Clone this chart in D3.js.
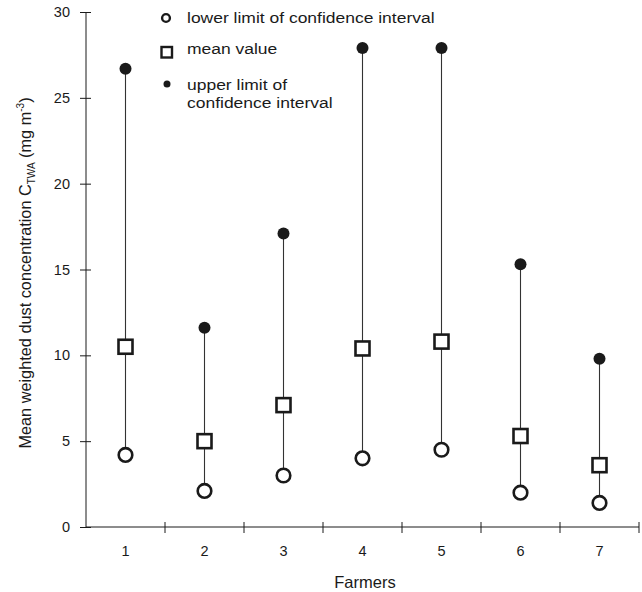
<!DOCTYPE html>
<html>
<head>
<meta charset="utf-8">
<script src="https://cdn.jsdelivr.net/npm/d3@7"></script>
<style>
  body { margin: 0; background: #fff; }
  svg { display: block; font-family: "Liberation Sans", Arial, sans-serif; }
</style>
</head>
<body>
<svg id="chart" width="642" height="592"></svg>
<script>
const farmers = ["1", "2", "3", "4", "5", "6", "7"];
const lowerLimit = [4.2, 2.1, 3.0, 4.0, 4.5, 2.0, 1.4];
const meanValue = [10.5, 5.0, 7.1, 10.4, 10.8, 5.3, 3.6];
const upperLimit = [26.7, 11.6, 17.1, 27.9, 27.9, 15.3, 9.8];
const yTicks = [0, 5, 10, 15, 20, 25, 30];

const svg = d3.select("#chart");
const x = d3.scaleBand().domain(farmers).range([86, 639]).padding(0);
const y = d3.scaleLinear().domain([0, 30]).range([527, 12]);
const ink = "#1a1a1a";
const ff = "Liberation Sans, Arial, sans-serif";

// Y axis
const yAxis = svg.append("g").attr("transform", "translate(86,0)")
  .call(d3.axisLeft(y).tickValues(yTicks).tickSize(5).tickPadding(11));
yAxis.select(".domain").attr("stroke", ink).attr("d", `M0,${y(0)}V${y(30)}`);
yAxis.selectAll(".tick line").attr("x1", -6).attr("x2", 5).attr("stroke", ink);
yAxis.selectAll(".tick text").attr("font-size", 14.5).attr("fill", ink).attr("font-family", ff);

// X axis (labels at centers, ticks at band boundaries)
const xAxis = svg.append("g").attr("transform", `translate(0,${y(0)})`)
  .call(d3.axisBottom(x).tickSize(0).tickPadding(19));
xAxis.select(".domain").attr("stroke", ink).attr("d", `M${x.range()[0]},0H${x.range()[1]}`);
xAxis.selectAll(".tick text").attr("font-size", 14.5).attr("fill", ink).attr("font-family", ff);
const bounds = farmers.map(d => x(d)).concat([x(farmers[farmers.length - 1]) + x.bandwidth()]);
xAxis.selectAll(".btick").data(bounds.slice(1)).enter().append("line")
  .attr("x1", d => d).attr("x2", d => d).attr("y1", -5).attr("y2", 6)
  .attr("stroke", ink).attr("stroke-width", 1);

// Axis titles
svg.append("text").attr("x", 365).attr("y", 588).attr("text-anchor", "middle")
  .attr("font-size", 16.5).attr("fill", ink).text("Farmers");

const yl = svg.append("text").attr("transform", "translate(31,273) rotate(-90)")
  .attr("text-anchor", "middle").attr("font-size", 16.3).attr("fill", ink);
yl.append("tspan").text("Mean weighted dust concentration C");
yl.append("tspan").attr("font-size", 10).attr("dy", 4).text("TWA");
yl.append("tspan").attr("dy", -4).text(" (mg m");
yl.append("tspan").attr("font-size", 10).attr("dy", -7).text("-3");
yl.append("tspan").attr("dy", 7).text(")");

// Data
const data = farmers.map((f, i) => ({ f, lo: lowerLimit[i], mean: meanValue[i], hi: upperLimit[i] }));
const cx = d => x(d.f) + x.bandwidth() / 2;

svg.append("g").selectAll("line").data(data).enter().append("line")
  .attr("x1", cx).attr("x2", cx).attr("y1", d => y(d.hi)).attr("y2", d => y(d.lo))
  .attr("stroke", "#333").attr("stroke-width", 1.1);

svg.append("g").selectAll("circle").data(data).enter().append("circle")
  .attr("cx", cx).attr("cy", d => y(d.lo)).attr("r", 6.8)
  .attr("fill", "#fff").attr("stroke", ink).attr("stroke-width", 2.6);

svg.append("g").selectAll("rect").data(data).enter().append("rect")
  .attr("x", d => cx(d) - 7).attr("y", d => y(d.mean) - 7)
  .attr("width", 14).attr("height", 14)
  .attr("fill", "#fff").attr("stroke", ink).attr("stroke-width", 2.6);

svg.append("g").selectAll("circle").data(data).enter().append("circle")
  .attr("cx", cx).attr("cy", d => y(d.hi)).attr("r", 6)
  .attr("fill", ink);

// Legend
const lg = svg.append("g").attr("fill", ink).attr("font-size", 15.2);
lg.append("circle").attr("cx", 166).attr("cy", 18).attr("r", 3.9)
  .attr("fill", "#fff").attr("stroke", ink).attr("stroke-width", 2.4);
lg.append("rect").attr("x", 161.5).attr("y", 47).attr("width", 10.5).attr("height", 10.5)
  .attr("fill", "#fff").attr("stroke", ink).attr("stroke-width", 2.4);
lg.append("circle").attr("cx", 167).attr("cy", 84).attr("r", 3.5).attr("fill", ink);
const legendTexts = [
  { t: "lower limit of confidence interval", y: 23 },
  { t: "mean value", y: 54 },
  { t: "upper limit of", y: 90 },
  { t: "confidence interval", y: 108 }
];
lg.selectAll("text.lt").data(legendTexts).enter().append("text")
  .attr("class", "lt").attr("x", 187).attr("y", d => d.y).text(d => d.t)
  .each(function () {
    const w = this.getComputedTextLength();
    d3.select(this).attr("textLength", w * 1.15).attr("lengthAdjust", "spacingAndGlyphs");
  });
</script>
</body>
</html>
